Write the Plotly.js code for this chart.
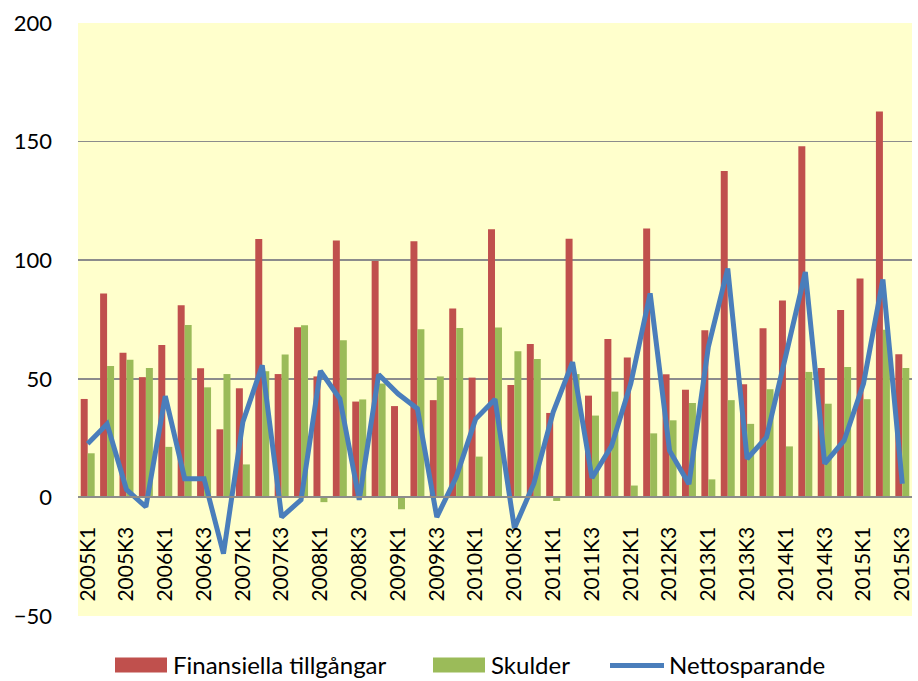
<!DOCTYPE html>
<html><head><meta charset="utf-8">
<script src="https://cdn.plot.ly/plotly-3.0.1.min.js"></script>
<style>html,body{margin:0;padding:0;background:#fff}#c{width:918px;height:681px}</style>
</head><body><div id="c"></div>
<script>
const categories = ["2005K1","2005K2","2005K3","2005K4","2006K1","2006K2","2006K3","2006K4",
"2007K1","2007K2","2007K3","2007K4","2008K1","2008K2","2008K3","2008K4",
"2009K1","2009K2","2009K3","2009K4","2010K1","2010K2","2010K3","2010K4",
"2011K1","2011K2","2011K3","2011K4","2012K1","2012K2","2012K3","2012K4",
"2013K1","2013K2","2013K3","2013K4","2014K1","2014K2","2014K3","2014K4",
"2015K1","2015K2","2015K3"];
const finansiella = [41.5,86,61,50.7,64.2,81,54.4,28.7,46,108.9,52,71.7,51,108.3,40.4,99.7,
38.5,108,41,79.6,50.5,113,47.4,64.7,35.6,109,42.9,66.8,59,113.4,51.9,45.4,
70.5,137.6,47.7,71.3,83,148,54.6,79,92.3,162.7,60.3];
const skulder = [18.6,55.4,58,54.6,21.3,72.7,46.4,52,13.9,53.2,60.2,72.6,-2,66.2,41.3,48,
-5,70.9,51,71.4,17.2,71.6,61.6,58.4,-1.5,52,34.5,44.6,5,27,32.5,39.8,
7.6,41,31,45.6,21.5,52.9,39.5,55,41.4,70.7,54.6];
const nettosparande = [22.6,30.9,3.3,-4,42.7,7.9,7.9,-23.7,31.8,55.7,-8.3,-1,53.3,41.6,-1,51.8,
43.7,37.4,-8.3,8.6,33,41.4,-13,5.8,36,57,8.2,21.5,48,86,19.7,5.6,
63.4,96.5,16.3,25.4,60,95,14.2,24,48,91.9,5.8];
const tickLabels = ["2005K1","2005K3","2006K1","2006K3","2007K1","2007K3","2008K1","2008K3",
"2009K1","2009K3","2010K1","2010K3","2011K1","2011K3","2012K1","2012K3",
"2013K1","2013K3","2014K1","2014K3","2015K1","2015K3"];
const yTicks = [-50,0,50,100,150,200];
const seriesNames = ["Finansiella tillgångar","Skulder","Nettosparande"];
const seriesColors = ["#C0504D","#9BBB59","#4A7EBB"];

const FONT = "Lato, 'Open Sans', sans-serif";
const W = 918, H = 681, ML = 78, MR = 6, MT = 23, MB = 65;
const PW = W - ML - MR, PH = H - MT - MB;
const px = v => (v - ML) / PW;          // pixel -> paper x
const py = v => (H - MB - v) / PH;      // pixel -> paper y

const traces = [
  {type:"bar", name:seriesNames[0], x:categories, y:finansiella, marker:{color:seriesColors[0]}, showlegend:false},
  {type:"bar", name:seriesNames[1], x:categories, y:skulder, marker:{color:seriesColors[1]}, showlegend:false},
  {type:"scatter", mode:"lines", name:seriesNames[2], x:categories, y:nettosparande,
   line:{color:seriesColors[2], width:5}, showlegend:false}
];

// custom legend (swatches + text) placed under the plot
const legendItems = [
  {kind:"rect", x0:115, x1:167, tx:172},
  {kind:"rect", x0:433, x1:485, tx:490},
  {kind:"line", x0:610, x1:664, tx:668}
];
const LEG_Y = 665;
const shapes = [], annotations = [];
legendItems.forEach((it, i) => {
  if (it.kind === "rect") {
    shapes.push({type:"rect", xref:"paper", yref:"paper", x0:px(it.x0), x1:px(it.x1),
      y0:py(LEG_Y + 7.5), y1:py(LEG_Y - 7.5), fillcolor:seriesColors[i], line:{width:0}});
  } else {
    shapes.push({type:"line", xref:"paper", yref:"paper", x0:px(it.x0), x1:px(it.x1),
      y0:py(LEG_Y + 0.5), y1:py(LEG_Y + 0.5), line:{color:seriesColors[i], width:5}});
  }
  annotations.push({xref:"paper", yref:"paper", x:px(it.tx), y:py(LEG_Y - 1), xanchor:"left", yanchor:"middle",
    text:seriesNames[i], showarrow:false, font:{family:FONT, size:24, color:"#000"}, borderpad:0});
});

const layout = {
  width:W, height:H,
  margin:{l:ML, r:MR, t:MT, b:MB, pad:0, autoexpand:false},
  paper_bgcolor:"#ffffff", plot_bgcolor:"#FFFFCC",
  font:{family:FONT, size:20, color:"#000"},
  barmode:"group", bargap:0.28, bargroupgap:0,
  showlegend:false,
  shapes:shapes, annotations:annotations,
  xaxis:{type:"category", categoryorder:"array", categoryarray:categories,
         tickmode:"array", tickvals:tickLabels, ticktext:tickLabels,
         tickangle:-90, tickfont:{family:FONT, size:21, color:"#000"}, ticklabelstandoff:20,
         anchor:"free", position:0.2, showline:true, linecolor:"#8c8c8c", linewidth:2,
         ticks:"", showgrid:false, zeroline:false, range:[-0.5, 42.5], fixedrange:true},
  yaxis:{range:[-50,200], tickmode:"array", tickvals:yTicks,
         showgrid:true, gridcolor:"#8c8c8c", gridwidth:1.6,
         zeroline:true, zerolinecolor:"#8c8c8c", zerolinewidth:2,
         tickfont:{family:FONT, size:22, color:"#000"}, ticks:"", ticklabelstandoff:25,
         showline:false, fixedrange:true}
};
Plotly.newPlot("c", traces, layout, {staticPlot:true, displayModeBar:false});
</script></body></html>
